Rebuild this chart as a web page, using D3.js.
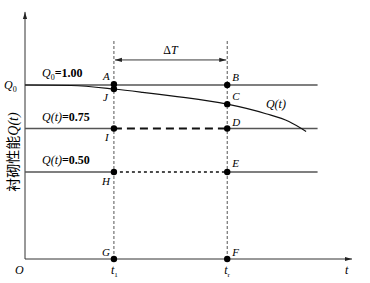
<!DOCTYPE html>
<html>
<head>
<meta charset="utf-8">
<script src="https://cdn.jsdelivr.net/npm/d3@7"></script>
<style>
  body { margin: 0; background: #fff; }
  text { font-family: "Liberation Serif", "Times New Roman", serif; }
</style>
</head>
<body>
<div id="chart"></div>
<script>
// time markers and performance levels
var t1 = 3.1, tr = 7.05;
var levels = [1.00, 0.75, 0.50];
var levelLabels = ["Q\u2080=1.00", "Q(t)=0.75", "Q(t)=0.50"];
// degradation curve Q(t)
var curveT = [0, 1.6, 3.1, 4.1, 5.1, 5.6, 7.05, 8.4, 9.2, 9.8];
var curveQ = [1.0, 0.997, 0.977, 0.958, 0.937, 0.927, 0.89, 0.835, 0.79, 0.733];
// labelled points
var points = [
  { name: "A", t: t1, q: 1.005, dx: -11, dy: -4 },
  { name: "J", t: t1, q: 0.977, dx: -11, dy: 12 },
  { name: "B", t: tr, q: 1.0, dx: 5, dy: -4 },
  { name: "C", t: tr, q: 0.89, dx: 5, dy: -4 },
  { name: "D", t: tr, q: 0.75, dx: 5, dy: -3 },
  { name: "I", t: t1, q: 0.75, dx: -9, dy: 12 },
  { name: "H", t: t1, q: 0.50, dx: -12, dy: 13 },
  { name: "E", t: tr, q: 0.50, dx: 5, dy: -5 },
  { name: "G", t: t1, q: 0, dx: -12, dy: -3 },
  { name: "F", t: tr, q: 0, dx: 5, dy: -3 }
];

var width = 370, height = 283;
var x = d3.scaleLinear().domain([0, 11.4]).range([25, 352]);
var y = d3.scaleLinear().domain([0, 1]).range([259, 85]);

var svg = d3.select("#chart").append("svg")
  .attr("width", width).attr("height", height);

var defs = svg.append("defs");
defs.append("marker").attr("id", "arr")
  .attr("viewBox", "0 0 10 10").attr("refX", 10).attr("refY", 5)
  .attr("markerWidth", 9).attr("markerHeight", 7).attr("orient", "auto-start-reverse")
  .attr("markerUnits", "userSpaceOnUse")
  .append("path").attr("d", "M0,2L10,5L0,8Z").attr("fill", "#222");

// axes
svg.append("line")
  .attr("x1", x(0)).attr("y1", y(0)).attr("x2", x(0)).attr("y2", y(1.42))
  .attr("stroke", "#333").attr("stroke-width", 1).attr("marker-end", "url(#arr)");
svg.append("line")
  .attr("x1", x(0)).attr("y1", y(0)).attr("x2", x(11.4)).attr("y2", y(0))
  .attr("stroke", "#333").attr("stroke-width", 1).attr("marker-end", "url(#arr)");

// vertical guides
[t1, tr].forEach(function(t) {
  svg.append("line")
    .attr("x1", x(t)).attr("x2", x(t)).attr("y1", y(0)).attr("y2", y(1.26))
    .attr("stroke", "#555").attr("stroke-width", 1).attr("stroke-dasharray", "3,2");
});

// level lines: solid outside [t1, tr]
levels.forEach(function(q, i) {
  var segs = i === 0 ? [[0, 10.2]] : [[0, t1], [tr, 10.2]];
  segs.forEach(function(s) {
    svg.append("line")
      .attr("x1", x(s[0])).attr("x2", x(s[1])).attr("y1", y(q)).attr("y2", y(q))
      .attr("stroke", "#555").attr("stroke-width", 1.3);
  });
});
svg.append("line")
  .attr("x1", x(t1)).attr("x2", x(tr)).attr("y1", y(0.75)).attr("y2", y(0.75))
  .attr("stroke", "#111").attr("stroke-width", 1.8).attr("stroke-dasharray", "8,5");
svg.append("line")
  .attr("x1", x(t1)).attr("x2", x(tr)).attr("y1", y(0.5)).attr("y2", y(0.5))
  .attr("stroke", "#111").attr("stroke-width", 1.5).attr("stroke-dasharray", "3,3");

// ΔT arrow
svg.append("line")
  .attr("x1", x(t1) + 1).attr("x2", x(tr) - 1).attr("y1", y(1.144)).attr("y2", y(1.144))
  .attr("stroke", "#222").attr("stroke-width", 0.9)
  .attr("marker-start", "url(#arr)").attr("marker-end", "url(#arr)");
svg.append("text").attr("x", (x(t1) + x(tr)) / 2).attr("y", y(1.144) - 6)
  .attr("text-anchor", "middle").attr("font-size", 12)
  .html('\u0394<tspan font-style="italic">T</tspan>');

// curve
var line = d3.line()
  .x(function(d) { return x(d[0]); })
  .y(function(d) { return y(d[1]); })
  .curve(d3.curveMonotoneX);
svg.append("path").datum(d3.zip(curveT, curveQ))
  .attr("d", line).attr("fill", "none").attr("stroke", "#111").attr("stroke-width", 1.2);
svg.append("text").attr("x", x(8.4)).attr("y", y(0.865)).attr("font-size", 12)
  .attr("font-style", "italic").text("Q(t)");

// points
svg.selectAll(".pt").data(points).enter().append("circle")
  .attr("cx", function(d) { return x(d.t); })
  .attr("cy", function(d) { return y(d.q); })
  .attr("r", 3.2).attr("fill", "#000");
svg.selectAll(".pl").data(points).enter().append("text")
  .attr("x", function(d) { return x(d.t) + d.dx; })
  .attr("y", function(d) { return y(d.q) + d.dy; })
  .attr("font-size", 11).attr("font-style", "italic")
  .text(function(d) { return d.name; });

// level labels
levels.forEach(function(q, i) {
  var tx = svg.append("text").attr("x", x(0) + 17).attr("y", y(q) - 8)
    .attr("font-size", 12);
  if (i === 0) {
    tx.append("tspan").attr("font-style", "italic").text("Q");
    tx.append("tspan").attr("font-size", 8).attr("dy", 3).text("0");
    tx.append("tspan").attr("dy", -3).attr("font-weight", "bold").text("=1.00");
  } else {
    tx.append("tspan").attr("font-style", "italic").text("Q(t)");
    tx.append("tspan").attr("font-weight", "bold").text(levelLabels[i].slice(4));
  }
});

// Q0 on axis
var q0 = svg.append("text").attr("x", 4).attr("y", y(1) + 4).attr("font-size", 12);
q0.append("tspan").attr("font-style", "italic").text("Q");
q0.append("tspan").attr("font-size", 8).attr("dy", 3).text("0");

// origin and t labels
svg.append("text").attr("x", 15).attr("y", 274).attr("font-size", 12)
  .attr("font-style", "italic").text("O");
svg.append("text").attr("x", 345).attr("y", 274).attr("font-size", 12)
  .attr("font-style", "italic").text("t");
[[t1, "1"], [tr, "r"]].forEach(function(d) {
  var tx = svg.append("text").attr("x", x(d[0]) - 3).attr("y", 274).attr("font-size", 12);
  tx.append("tspan").attr("font-style", "italic").text("t");
  tx.append("tspan").attr("font-size", 7).attr("dy", 3).text(d[1]);
});

// y label
var yl = svg.append("text")
  .attr("transform", "translate(18," + 152 + ") rotate(-90)")
  .attr("text-anchor", "middle").attr("font-size", 14);
yl.append("tspan").attr("font-family", "Noto Sans CJK SC").text("衬砌性能");
yl.append("tspan").attr("font-style", "italic").text("Q(t)");
</script>
</body>
</html>
